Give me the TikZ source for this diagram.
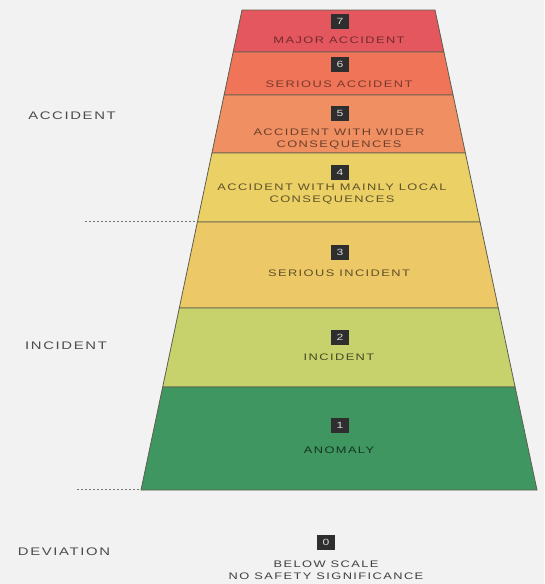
\documentclass[tikz,border=0pt]{standalone}
\usepackage{fontspec}
\setmainfont{Liberation Sans}
\newfontfamily\inesfont[FakeStretch=1.35,LetterSpace=15]{Liberation Sans}
\definecolor{bgc}{HTML}{F2F2F2}
\definecolor{cseven}{HTML}{E5575F}
\definecolor{csix}{HTML}{EF7458}
\definecolor{cfive}{HTML}{EF8F62}
\definecolor{cfour}{HTML}{EBD066}
\definecolor{cthree}{HTML}{ECC866}
\definecolor{ctwo}{HTML}{C7D26D}
\definecolor{cone}{HTML}{3F9660}
\definecolor{edgec}{HTML}{5E5E50}
\definecolor{numc}{HTML}{2E2E2E}
\newcommand{\inesxl}[1]{242-0.2104*(#1-10)}
\newcommand{\inesxr}[1]{435+0.2125*(#1-10)}
\newcommand{\ineslayer}[3]{%
  \pgfmathsetmacro{\ya}{#1}\pgfmathsetmacro{\yb}{#2}%
  \pgfmathsetmacro{\xa}{\inesxl{#1}}\pgfmathsetmacro{\xb}{\inesxr{#1}}%
  \pgfmathsetmacro{\xc}{\inesxr{#2}}\pgfmathsetmacro{\xd}{\inesxl{#2}}%
  \draw[layerbox,fill=#3] (\xa,\ya) -- (\xb,\ya) -- (\xc,\yb) -- (\xd,\yb) -- cycle;}
\begin{document}
\begin{tikzpicture}[x=1pt,y=-1pt,
  layerbox/.style={draw=edgec,line width=0.8pt,line join=round},
  numbox/.style={fill=numc,text=white!70!gray,minimum width=18pt,minimum height=15pt,inner sep=0pt,font=\inesfont\fontsize{9}{9}\selectfont},
  laytext/.style={align=center,inner sep=0pt,font=\inesfont\fontsize{9.5}{12}\selectfont},
  sidetext/.style={inner sep=0pt,text=black!70,font=\inesfont\fontsize{11}{12}\selectfont},
  guide/.style={draw=black!55,dashed,dash pattern=on 2pt off 2pt,line width=0.7pt}]
\useasboundingbox (0,0) rectangle (544,584);
\fill[bgc] (0,0) rectangle (544,584);
\ineslayer{10}{52}{cseven}
\ineslayer{52}{95}{csix}
\ineslayer{95}{153}{cfive}
\ineslayer{153}{222}{cfour}
\ineslayer{222}{308}{cthree}
\ineslayer{308}{387}{ctwo}
\ineslayer{387}{490}{cone}
% numbers and texts
\node[numbox] (n7) at (340,21) {7};
\node[laytext,text=cseven!50!black] (t7) at (339,40) {MAJOR ACCIDENT};
\node[numbox] (n6) at (340,64) {6};
\node[laytext,text=csix!50!black] (t6) at (339,84) {SERIOUS ACCIDENT};
\node[numbox] (n5) at (340,113) {5};
\node[laytext,text=cfive!45!black] (t5) at (339,139) {ACCIDENT WITH WIDER\\CONSEQUENCES};
\node[numbox] (n4) at (340,172) {4};
\node[laytext,text=cfour!40!black] (t4) at (332,194) {ACCIDENT WITH MAINLY LOCAL\\CONSEQUENCES};
\node[numbox] (n3) at (340,252) {3};
\node[laytext,text=cthree!40!black] (t3) at (339,273) {SERIOUS INCIDENT};
\node[numbox] (n2) at (340,337) {2};
\node[laytext,text=ctwo!35!black] (t2) at (339,357) {INCIDENT};
\node[numbox] (n1) at (340,425) {1};
\node[laytext,text=cone!35!black] (t1) at (339,450) {ANOMALY};
\node[numbox] (n0) at (326,542) {0};
\node[laytext,text=black!75] (t0) at (326,570) {BELOW SCALE\\NO SAFETY SIGNIFICANCE};
% side labels
\node[sidetext] (acc) at (72,116) {ACCIDENT};
\node[sidetext] (inc) at (66,346) {INCIDENT};
\node[sidetext] (dev) at (64,552) {DEVIATION};
% dashed guides
\coordinate (g1s) at (85,221);
\coordinate (g1e) at (196,221);
\coordinate (g2s) at (77,489);
\coordinate (g2e) at (140,489);
\draw[guide] (g1s) -- (g1e);
\draw[guide] (g2s) -- (g2e);
\end{tikzpicture}
\end{document}
